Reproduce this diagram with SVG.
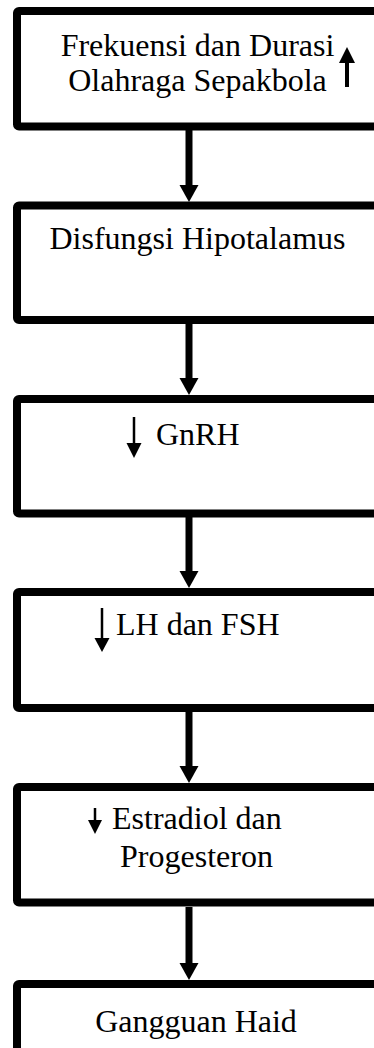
<svg xmlns="http://www.w3.org/2000/svg" width="374" height="1048" viewBox="0 0 374 1048">
<defs>
<style>
.box{fill:#fff;stroke:#000;stroke-width:8;stroke-linejoin:round}
.t{font-family:"Liberation Serif","Times New Roman",serif;font-size:32px;fill:#000}
.c{stroke:#000;stroke-width:7;fill:none}
.s{stroke:#000;stroke-width:2.5;fill:none}
</style>
<marker id="ah" viewBox="0 0 19 17" refX="19" refY="8.5" markerWidth="19" markerHeight="17" markerUnits="userSpaceOnUse" orient="auto"><path d="M0,0 L19,8.5 L0,17 Z" fill="#000"/></marker>
</defs>
<rect width="374" height="1048" fill="#fff"/>
<g id="connectors">
<path class="c" d="M189,130 V187" /><path d="M179.5,185 L198.5,185 L189,202 Z"/>
<path class="c" d="M189,324 V380" /><path d="M179.5,378 L198.5,378 L189,395 Z"/>
<path class="c" d="M189,517 V573" /><path d="M179.5,571 L198.5,571 L189,588 Z"/>
<path class="c" d="M189,712 V768" /><path d="M179.5,766 L198.5,766 L189,783 Z"/>
<path class="c" d="M189,907 V965" /><path d="M179.5,963 L198.5,963 L189,980 Z"/>
</g>
<g id="n1">
<rect class="box" x="17" y="11" width="400" height="115.5" rx="2"/>
<text class="t" x="197.5" y="56" text-anchor="middle">Frekuensi dan Durasi</text>
<text class="t" x="197.5" y="91" text-anchor="middle">Olahraga Sepakbola</text>
<path d="M347,62 V87" stroke="#000" stroke-width="4"/><path d="M339,63 L355,63 L347,47 Z"/>
</g>
<g id="n2">
<rect class="box" x="17" y="205.5" width="400" height="114.5" rx="2"/>
<text class="t" x="197.5" y="249" text-anchor="middle">Disfungsi Hipotalamus</text>
</g>
<g id="n3">
<rect class="box" x="17" y="399" width="400" height="114.5" rx="2"/>
<path class="s" d="M134,417 V445"/><path d="M126.5,443 L141.5,443 L134,458 Z"/>
<text class="t" x="156" y="445">GnRH</text>
</g>
<g id="n4">
<rect class="box" x="17" y="592" width="400" height="116" rx="2"/>
<path class="s" d="M102,608 V640"/><path d="M94.5,638 L109.5,638 L102,652 Z"/>
<text class="t" x="116" y="635">LH dan FSH</text>
</g>
<g id="n5">
<rect class="box" x="17" y="787" width="400" height="115.5" rx="2"/>
<path class="s" d="M95,808 V822"/><path d="M88,820 L102,820 L95,834 Z"/>
<text class="t" x="112" y="829">Estradiol dan</text>
<text class="t" x="196.5" y="867" text-anchor="middle">Progesteron</text>
</g>
<g id="n6">
<rect class="box" x="17" y="984" width="400" height="100" rx="2"/>
<text class="t" x="196" y="1032" text-anchor="middle">Gangguan Haid</text>
</g>
</svg>
